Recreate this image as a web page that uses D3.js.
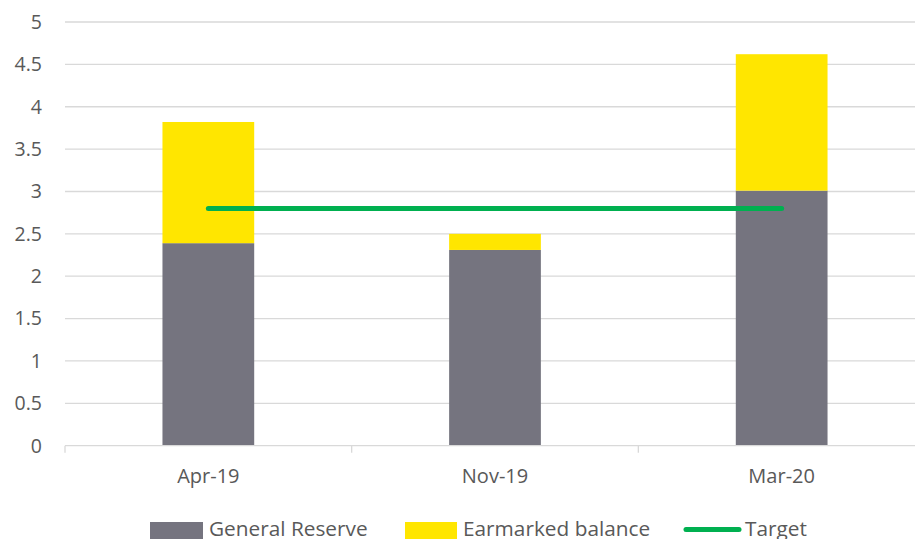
<!DOCTYPE html>
<html>
<head>
<meta charset="utf-8">
<script src="https://cdn.jsdelivr.net/npm/d3@7"></script>
<style>
  html, body { margin: 0; padding: 0; background: #fff; overflow: hidden; }
  text { font-family: "Open Sans", sans-serif; fill: #595959; }
</style>
</head>
<body>
<div id="chart"></div>
<script>
// data
const categories = ["Apr-19", "Nov-19", "Mar-20"];
const generalReserve = [2.39, 2.31, 3.01];
const earmarkedBalance = [1.43, 0.19, 1.61];
const target = [2.8, 2.8, 2.8];
const yTicks = [0, 0.5, 1, 1.5, 2, 2.5, 3, 3.5, 4, 4.5, 5];

const width = 915, height = 539;
const plotLeft = 65, plotRight = 925, plotTop = 22, plotBottom = 445.7;

const svg = d3.select('#chart')
    .append('svg')
    .attr('width', width)
    .attr('height', height);

const yScale = d3.scaleLinear()
    .domain([0, 5])
    .range([plotBottom, plotTop]);

const xBand = d3.scaleBand()
    .domain(categories)
    .range([plotLeft, plotRight])
    .paddingInner(0.68)
    .paddingOuter(0.34);

const xSlot = d3.scaleBand()
    .domain(categories)
    .range([plotLeft, plotRight])
    .padding(0);

// gridlines
svg.append('g')
    .selectAll('line')
    .data(yTicks.filter(d => d > 0))
    .enter()
    .append('line')
    .attr('x1', plotLeft)
    .attr('x2', plotRight)
    .attr('y1', d => yScale(d))
    .attr('y2', d => yScale(d))
    .attr('stroke', '#d9d9d9')
    .attr('stroke-width', 1.3);

// y labels
svg.append('g')
    .selectAll('text')
    .data(yTicks)
    .enter()
    .append('text')
    .attr('x', 42)
    .attr('y', d => yScale(d))
    .attr('dy', '0.35em')
    .attr('text-anchor', 'end')
    .style('font-size', '19.5px')
    .text(d => d);

// stacked bars
const stackData = categories.map((c, i) => ({ cat: c, general: generalReserve[i], earmarked: earmarkedBalance[i] }));
const series = d3.stack().keys(['general', 'earmarked'])(stackData);
const colors = { general: '#75747f', earmarked: '#ffe600' };

svg.append('g')
    .selectAll('g')
    .data(series)
    .enter()
    .append('g')
    .attr('fill', s => colors[s.key])
    .selectAll('rect')
    .data(s => s)
    .enter()
    .append('rect')
    .attr('x', d => xBand(d.data.cat))
    .attr('width', xBand.bandwidth())
    .attr('y', d => yScale(d[1]))
    .attr('height', d => yScale(d[0]) - yScale(d[1]));

// x axis baseline + ticks
svg.append('line')
    .attr('x1', plotLeft).attr('x2', plotRight)
    .attr('y1', plotBottom).attr('y2', plotBottom)
    .attr('stroke', '#d9d9d9')
    .attr('stroke-width', 1.3);

const boundaries = categories.map(c => xSlot(c)).concat([plotRight]);
svg.append('g')
    .selectAll('line')
    .data(boundaries)
    .enter()
    .append('line')
    .attr('x1', d => d).attr('x2', d => d)
    .attr('y1', plotBottom).attr('y2', plotBottom + 7)
    .attr('stroke', '#d9d9d9')
    .attr('stroke-width', 1.3);

svg.append('g')
    .selectAll('text')
    .data(categories)
    .enter()
    .append('text')
    .attr('x', d => xBand(d) + xBand.bandwidth() / 2)
    .attr('y', 483)
    .attr('text-anchor', 'middle')
    .style('font-size', '20px')
    .text(d => d);

// target line
const line = d3.line()
    .x((d, i) => xBand(categories[i]) + xBand.bandwidth() / 2)
    .y(d => yScale(d));

svg.append('path')
    .datum(target)
    .attr('d', line)
    .attr('fill', 'none')
    .attr('stroke', '#00b050')
    .attr('stroke-width', 5)
    .attr('stroke-linecap', 'round');

// legend
const legend = svg.append('g');
legend.append('rect').attr('x', 150).attr('y', 522).attr('width', 53).attr('height', 17).attr('fill', colors.general);
legend.append('text').attr('x', 209).attr('y', 536).style('font-size', '20.8px').text('General Reserve');
legend.append('rect').attr('x', 405).attr('y', 522).attr('width', 52).attr('height', 17).attr('fill', colors.earmarked);
legend.append('text').attr('x', 463).attr('y', 536).style('font-size', '20.8px').text('Earmarked balance');
legend.append('line').attr('x1', 686).attr('x2', 739).attr('y1', 529.5).attr('y2', 529.5)
    .attr('stroke', '#00b050').attr('stroke-width', 5).attr('stroke-linecap', 'round');
legend.append('text').attr('x', 745).attr('y', 536).style('font-size', '20.8px').text('Target');
</script>
</body>
</html>
